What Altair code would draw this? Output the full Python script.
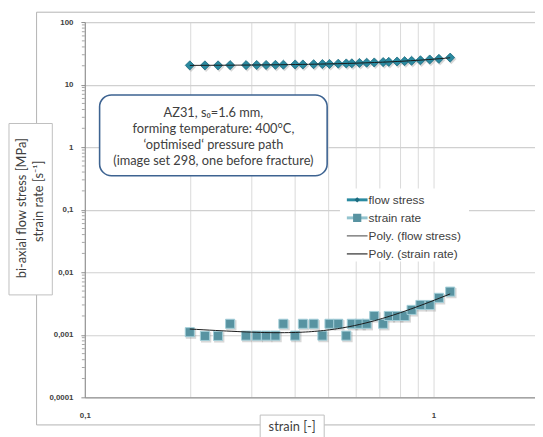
import altair as alt
import pandas as pd

# ---- data ----
strain = [0.200, 0.221, 0.241, 0.261, 0.290, 0.311, 0.331, 0.352, 0.371, 0.401,
          0.422, 0.453, 0.480, 0.503, 0.533, 0.562, 0.583, 0.613, 0.643, 0.676,
          0.717, 0.744, 0.786, 0.826, 0.865, 0.917, 0.975, 1.036, 1.116]
flow_stress = [20.3, 20.3, 20.3, 20.5, 20.5, 20.6, 20.6, 20.7, 20.8, 21.0,
               21.0, 21.2, 21.3, 21.4, 21.6, 21.8, 21.9, 22.2, 22.4, 22.6,
               22.9, 23.1, 23.4, 23.7, 24.0, 24.5, 25.2, 25.8, 27.0]
strain_rate = [0.0011, 0.00096, 0.00096, 0.0015, 0.00097, 0.00097, 0.00097, 0.00097, 0.0015, 0.00097,
               0.0015, 0.0015, 0.00097, 0.0015, 0.0015, 0.00097, 0.0015, 0.0015, 0.0015, 0.0020,
               0.0015, 0.0020, 0.0020, 0.0020, 0.0025, 0.0030, 0.0030, 0.0039, 0.0049]

y_ticks = [0.0001, 0.001, 0.01, 0.1, 1, 10, 100]
x_grid = [0.1, 0.2, 0.3, 0.4, 0.5, 0.6, 0.7, 0.8, 0.9, 1.0]
minor_mult = [2, 3, 4, 5, 6, 7, 8, 9]
minor_ticks = [m * d for d in [0.0001, 0.001, 0.01, 0.1, 1, 10] for m in minor_mult]

y_title_lines = ["bi-axial flow stress [MPa]", "strain rate [s\u207b\u00b9]"]
x_title = "strain [-]"
ann_lines = ["AZ31, s\u2080=1.6 mm,", "forming temperature: 400\u00b0C,",
             "\u2018optimised\u2018 pressure path", "(image set 298, one before fracture)"]
legend_labels = ["flow stress", "strain rate", "Poly. (flow stress)", "Poly. (strain rate)"]

df = pd.DataFrame({"strain": strain, "flow": flow_stress, "rate": strain_rate})
one = pd.DataFrame({"a": [0]})

W, H = 457, 381
TXT = "#404040"
xscale = alt.Scale(type="log", domain=[0.1, 1.954], nice=False)
yscale = alt.Scale(type="log", domain=[0.0001, 100], nice=False)

xaxis = alt.Axis(values=x_grid, title=None, grid=True, gridColor="#d9d9d9", gridWidth=1,
                 domainColor="#8c8c8c", ticks=False, labelPadding=14, labelFlush=False,
                 labelExpr="datum.value == 0.1 ? '0,1' : (datum.value == 1 ? '1' : '')",
                 labelFont="Liberation Sans", labelFontWeight="bold", labelFontSize=8,
                 labelColor=TXT)
yaxis = alt.Axis(values=y_ticks, title=None, grid=True, gridColor="#d0d0d0", gridWidth=1.2,
                 domainColor="#8c8c8c", tickColor="#8c8c8c", tickSize=4, labelPadding=8,
                 labelExpr="replace(toString(datum.value), '.', ',')",
                 labelFont="Liberation Sans", labelFontWeight="bold", labelFontSize=8,
                 labelColor=TXT)

def X(f):
    return alt.X(f, scale=xscale, axis=xaxis)

def Y(f):
    return alt.Y(f, scale=yscale, axis=yaxis)

layers = []

# chart-area border
layers.append(alt.Chart(one).mark_rect(fillOpacity=0, stroke="#b3b3b3", strokeWidth=1).encode(
    x=alt.value(-49), x2=alt.value(480), y=alt.value(-10), y2=alt.value(409)))

base = alt.Chart(df)
# soft shadows
layers.append(base.mark_point(shape="diamond", filled=True, size=110, color="#7f7f7f",
                              opacity=0.3, xOffset=1.2, yOffset=1.5).encode(
    x=X("strain:Q"), y=Y("flow:Q")))
layers.append(base.mark_point(shape="diamond", filled=True, size=85, color="#2a8aa0",
                              stroke="#1d6a7e", strokeWidth=0.8, opacity=1).encode(
    x=X("strain:Q"), y=Y("flow:Q")))

# minor ticks on y axis
layers.append(alt.Chart(pd.DataFrame({"flow": minor_ticks})).mark_rule(color="#a6a6a6", strokeWidth=1).encode(
    x=alt.value(-3), x2=alt.value(0), y=Y("flow:Q")))

layers.append(base.mark_square(size=110, color="#7f7f7f", opacity=0.3,
                               xOffset=1.2, yOffset=1.5).encode(
    x=X("strain:Q"), y=Y("rate:Q")))
layers.append(base.mark_square(size=85, color="#5893a1", stroke="#a3ced8", strokeWidth=1,
                               opacity=1).encode(
    x=X("strain:Q"), y=Y("rate:Q")))

# polynomial trendlines
layers.append(base.transform_regression("strain", "flow", method="poly", order=2)
              .mark_line(color="#1a1a1a", strokeWidth=1).encode(
    x=X("strain:Q"), y=Y("flow:Q")))
layers.append(base.transform_regression("strain", "rate", method="poly", order=2)
              .mark_line(color="#1a1a1a", strokeWidth=1).encode(
    x=X("strain:Q"), y=Y("rate:Q")))

# y title box
layers.append(alt.Chart(one).mark_rect(fill="white", stroke="#bfbfbf", strokeWidth=1).encode(
    x=alt.value(-77), x2=alt.value(-33), y=alt.value(103), y2=alt.value(277)))
for i, t in enumerate(y_title_lines):
    layers.append(alt.Chart(one).mark_text(text=t, angle=270, font="Lato", fontSize=13,
                                           color=TXT, align="center", baseline="middle").encode(
        x=alt.value(-64 + 18 * i), y=alt.value(189 - 7 * i)))

# annotation box
layers.append(alt.Chart(one).mark_rect(fill="white", stroke="#3d6391", strokeWidth=1.6,
                                       cornerRadius=12).encode(
    x=alt.value(15), x2=alt.value(246), y=alt.value(74), y2=alt.value(156)))
for i, t in enumerate(ann_lines):
    layers.append(alt.Chart(one).mark_text(text=t, font="Lato", fontSize=13, color=TXT,
                                           align="center", baseline="middle").encode(
        x=alt.value(130.5), y=alt.value(92.7 + 16.1 * i)))

# legend
layers.append(alt.Chart(one).mark_rect(fill="white").encode(
    x=alt.value(259), x2=alt.value(390), y=alt.value(169), y2=alt.value(243)))
leg_style = [
    dict(line="#2a8aa0", lw=3, shape="diamond", size=30, fill="#1d6a7e"),
    dict(line="#93c4cf", lw=3, shape="square", size=70, fill="#5893a1"),
    dict(line="#404040", lw=1, shape=None),
    dict(line="#000000", lw=1, shape=None),
]
for i, (lab, st) in enumerate(zip(legend_labels, leg_style)):
    yy = 180.5 + 18.3 * i
    layers.append(alt.Chart(one).mark_rule(color=st["line"], strokeWidth=st["lw"]).encode(
        x=alt.value(266), x2=alt.value(287), y=alt.value(yy)))
    if st["shape"]:
        layers.append(alt.Chart(one).mark_point(shape=st["shape"], filled=True, size=st["size"],
                                                color=st["fill"], opacity=1).encode(
            x=alt.value(276.5), y=alt.value(yy)))
    layers.append(alt.Chart(one).mark_text(text=lab, font="Liberation Sans", fontSize=12,
                                           color=TXT, align="left", baseline="middle").encode(
        x=alt.value(288), y=alt.value(yy)))

# x title box
layers.append(alt.Chart(one).mark_rect(fill="white", stroke="#bfbfbf", strokeWidth=1).encode(
    x=alt.value(178), x2=alt.value(243), y=alt.value(399), y2=alt.value(430)))
layers.append(alt.Chart(one).mark_text(text=x_title, font="Lato", fontSize=13, color=TXT,
                                       align="center", baseline="middle").encode(
    x=alt.value(210.5), y=alt.value(411)))

chart = alt.layer(*layers).properties(
    width=W, height=H, autosize="none",
    padding={"left": 78, "top": 11, "right": 0, "bottom": 37},
).configure_view(stroke=None).configure(background="white")

chart.save("out.html", embed_options={"renderer": "svg", "actions": False})
